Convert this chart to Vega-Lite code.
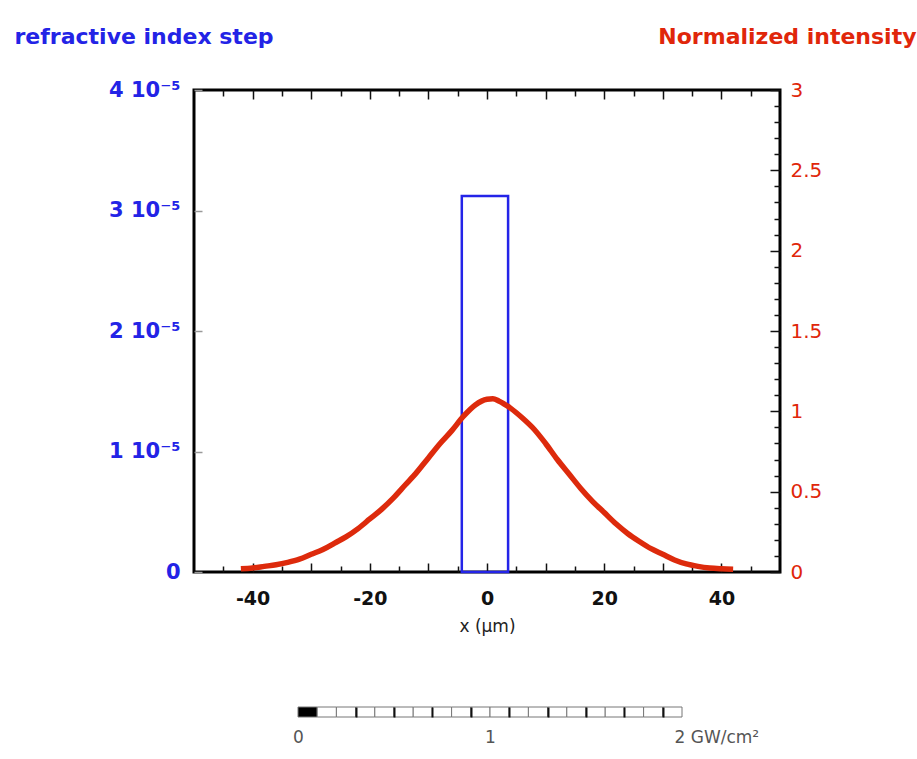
{
  "$schema": "https://vega.github.io/schema/vega-lite/v6.json",
  "padding": {"left": 12, "top": 23, "right": 0, "bottom": 0},
  "background": "white",
  "datasets": {
    "step": [{"x0": -4.3, "x1": 3.6, "n0": 0, "n1": 3.12e-5}],
    "intensity": [
      {"x": -42, "I": 0.02}, {"x": -40, "I": 0.025}, {"x": -38, "I": 0.035}, {"x": -36, "I": 0.045},
      {"x": -34, "I": 0.06}, {"x": -32, "I": 0.08}, {"x": -30, "I": 0.11}, {"x": -28, "I": 0.14},
      {"x": -26, "I": 0.18}, {"x": -24, "I": 0.22}, {"x": -22, "I": 0.27}, {"x": -20, "I": 0.33},
      {"x": -18, "I": 0.39}, {"x": -16, "I": 0.46}, {"x": -14, "I": 0.54}, {"x": -12, "I": 0.62},
      {"x": -10, "I": 0.71}, {"x": -8, "I": 0.8}, {"x": -6, "I": 0.88}, {"x": -4, "I": 0.97},
      {"x": -2, "I": 1.04}, {"x": 0, "I": 1.075}, {"x": 1, "I": 1.078}, {"x": 2, "I": 1.065},
      {"x": 4, "I": 1.02}, {"x": 6, "I": 0.96}, {"x": 8, "I": 0.89}, {"x": 10, "I": 0.8},
      {"x": 12, "I": 0.7}, {"x": 14, "I": 0.61}, {"x": 16, "I": 0.52}, {"x": 18, "I": 0.44},
      {"x": 20, "I": 0.37}, {"x": 22, "I": 0.3}, {"x": 24, "I": 0.24}, {"x": 26, "I": 0.19},
      {"x": 28, "I": 0.145}, {"x": 30, "I": 0.11}, {"x": 32, "I": 0.075}, {"x": 34, "I": 0.05},
      {"x": 36, "I": 0.035}, {"x": 38, "I": 0.025}, {"x": 40, "I": 0.02}, {"x": 42, "I": 0.017}
    ],
    "scale": [
      {"g0": 0.0, "g1": 0.1, "state": "on"}, {"g0": 0.1, "g1": 0.2, "state": "off"},
      {"g0": 0.2, "g1": 0.3, "state": "off"}, {"g0": 0.3, "g1": 0.4, "state": "off"},
      {"g0": 0.4, "g1": 0.5, "state": "off"}, {"g0": 0.5, "g1": 0.6, "state": "off"},
      {"g0": 0.6, "g1": 0.7, "state": "off"}, {"g0": 0.7, "g1": 0.8, "state": "off"},
      {"g0": 0.8, "g1": 0.9, "state": "off"}, {"g0": 0.9, "g1": 1.0, "state": "off"},
      {"g0": 1.0, "g1": 1.1, "state": "off"}, {"g0": 1.1, "g1": 1.2, "state": "off"},
      {"g0": 1.2, "g1": 1.3, "state": "off"}, {"g0": 1.3, "g1": 1.4, "state": "off"},
      {"g0": 1.4, "g1": 1.5, "state": "off"}, {"g0": 1.5, "g1": 1.6, "state": "off"},
      {"g0": 1.6, "g1": 1.7, "state": "off"}, {"g0": 1.7, "g1": 1.8, "state": "off"},
      {"g0": 1.8, "g1": 1.9, "state": "off"}, {"g0": 1.9, "g1": 2.0, "state": "off"}
    ]
  },
  "vconcat": [
    {
      "width": 586,
      "height": 482,
      "layer": [
        {
          "data": {"name": "step"},
          "mark": {"type": "rect", "filled": false, "stroke": "#2424e8", "strokeWidth": 2.5},
          "encoding": {
            "x": {
              "field": "x0", "type": "quantitative",
              "scale": {"domain": [-50, 50], "nice": false, "zero": false},
              "axis": {
                "orient": "bottom",
                "values": [-45, -40, -35, -30, -25, -20, -15, -10, -5, 0, 5, 10, 15, 20, 25, 30, 35, 40, 45],
                "labelExpr": "datum.value % 20 == 0 ? (datum.value < 0 ? '-' + abs(datum.value) : '' + datum.value) : ''",
                "labelOverlap": false, "labelFlush": false,
                "labelFont": "DejaVu Sans", "labelFontSize": 19, "labelFontWeight": "bold", "labelColor": "#111",
                "labelPadding": 26,
                "domain": false, "grid": false, "tickColor": "#111", "tickWidth": 1.5,
                "tickSize": {"condition": {"test": "datum.value % 10 == 0", "value": -9}, "value": -6},
                "title": "x (µm)", "titleFont": "DejaVu Sans", "titleFontSize": 17, "titleFontWeight": "normal",
                "titleColor": "#222", "titlePadding": 7
              }
            },
            "x2": {"field": "x1"},
            "y": {
              "field": "n0", "type": "quantitative",
              "scale": {"domain": [0, 4e-5], "nice": false, "zero": false},
              "axis": {
                "orient": "left",
                "values": [0, 1e-5, 2e-5, 3e-5, 4e-5],
                "labelExpr": "datum.value == 0 ? '0' : round(datum.value * 1e5) + ' 10⁻⁵'",
                "labelOverlap": false, "labelFlush": false,
                "labelFont": "DejaVu Sans", "labelFontSize": 21, "labelFontWeight": "bold", "labelColor": "#2323e6",
                "labelPadding": 22,
                "domain": false, "grid": false, "tickSize": -8, "tickColor": "#999", "tickWidth": 1.5,
                "title": "refractive index step", "titleAngle": 0, "titleAlign": "left", "titleBaseline": "middle",
                "titleX": -180, "titleY": -54,
                "titleFont": "DejaVu Sans", "titleFontSize": 22, "titleFontWeight": "bold", "titleColor": "#2323e6"
              }
            },
            "y2": {"field": "n1"}
          }
        },
        {
          "data": {"name": "intensity"},
          "mark": {"type": "line", "color": "#dd2a0c", "strokeWidth": 5.5, "interpolate": "monotone"},
          "encoding": {
            "x": {
              "field": "x", "type": "quantitative",
              "axis": {
                "orient": "top",
                "values": [-45, -40, -35, -30, -25, -20, -15, -10, -5, 0, 5, 10, 15, 20, 25, 30, 35, 40, 45],
                "labels": false, "title": null, "domain": false, "grid": false,
                "tickColor": "#111", "tickWidth": 1.5,
                "tickSize": {"condition": {"test": "datum.value % 10 == 0", "value": -9}, "value": -6}
              }
            },
            "y": {
              "field": "I", "type": "quantitative",
              "scale": {"domain": [0, 3], "nice": false, "zero": false},
              "axis": {
                "orient": "right",
                "values": [0, 0.1, 0.2, 0.3, 0.4, 0.5, 0.6, 0.7, 0.8, 0.9, 1, 1.1, 1.2, 1.3, 1.4, 1.5, 1.6, 1.7, 1.8, 1.9, 2, 2.1, 2.2, 2.3, 2.4, 2.5, 2.6, 2.7, 2.8, 2.9, 3],
                "labelExpr": "abs(datum.value * 2 - round(datum.value * 2)) < 0.001 ? '' + (round(datum.value * 2) / 2) : ''",
                "labelOverlap": false, "labelFlush": false,
                "labelFont": "DejaVu Sans", "labelFontSize": 20, "labelFontWeight": "normal", "labelColor": "#e0260a",
                "labelPadding": 20,
                "domain": false, "grid": false, "tickColor": "#111", "tickWidth": 1.5,
                "tickSize": {"condition": {"test": "abs(datum.value * 2 - round(datum.value * 2)) < 0.001", "value": -10}, "value": -6},
                "title": "Normalized intensity", "titleAngle": 0, "titleAlign": "right", "titleBaseline": "middle",
                "titleX": 136, "titleY": -54,
                "titleFont": "DejaVu Sans", "titleFontSize": 22, "titleFontWeight": "bold", "titleColor": "#e0260a"
              }
            }
          }
        }
      ],
      "resolve": {"scale": {"y": "independent"}, "axis": {"x": "independent", "y": "independent"}}
    },
    {
      "width": 586,
      "height": 10,
      "data": {"name": "scale"},
      "view": {"stroke": null},
      "mark": {"type": "rect", "stroke": "#777", "strokeWidth": 1},
      "encoding": {
        "x": {
          "field": "g0", "type": "quantitative",
          "scale": {"domain": [-0.5417, 2.5104], "nice": false, "zero": false},
          "axis": {
            "orient": "bottom",
            "values": [0, 0.3, 0.5, 0.7, 0.9, 1, 1.1, 1.3, 1.5, 1.7, 1.9, 2],
            "labelExpr": "datum.value == 0 ? '0' : datum.value == 1 ? '1' : datum.value == 2 ? '2 GW/cm²' : ''",
            "labelOverlap": false, "labelFlush": false,
            "labelFont": "DejaVu Sans", "labelFontSize": 17, "labelColor": "#555", "labelPadding": 12,
            "labelAlign": {"condition": {"test": "datum.value == 2", "value": "left"}, "value": "center"},
            "labelOffset": {"condition": {"test": "datum.value == 2", "value": -8}, "value": 0},
            "ticks": false, "domain": false, "title": null,
            "grid": true, "gridColor": "#111", "gridWidth": 2, "zindex": 1,
            "gridOpacity": {"condition": {"test": "round(datum.value * 10) % 2 == 1", "value": 1}, "value": 0}
          }
        },
        "x2": {"field": "g1"},
        "color": {
          "field": "state", "type": "nominal",
          "scale": {"domain": ["on", "off"], "range": ["#000000", "#ffffff"]},
          "legend": null
        }
      }
    }
  ],
  "spacing": 70,
  "config": {
    "view": {"stroke": "#000", "strokeWidth": 3},
    "font": "DejaVu Sans"
  }
}
